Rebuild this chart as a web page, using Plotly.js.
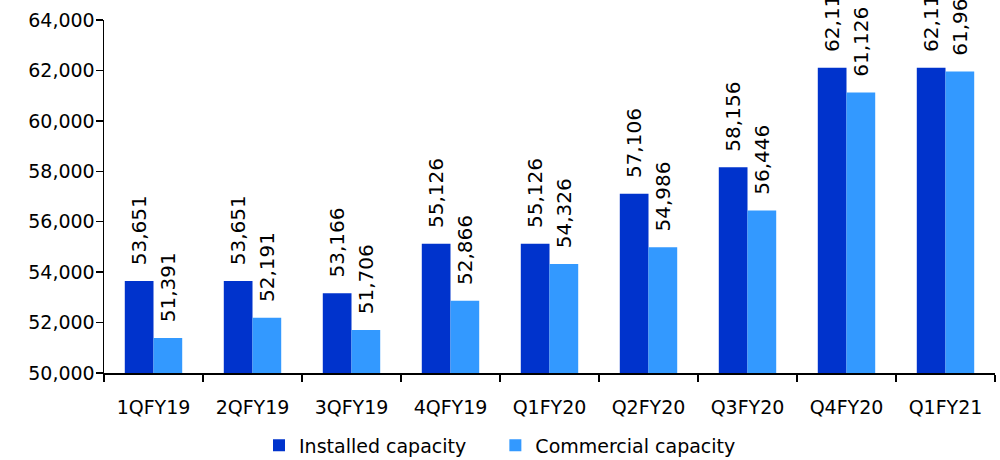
<!DOCTYPE html>
<html>
<head>
<meta charset="utf-8">
<script src="https://cdn.plot.ly/plotly-3.0.1.min.js"></script>
<style>
  html, body { margin: 0; padding: 0; background: #fff; }
  #chart { width: 1000px; height: 460px; }
</style>
</head>
<body>
<div id="chart"></div>
<script>
// Quarterly capacity figures
const quarters = ['1QFY19', '2QFY19', '3QFY19', '4QFY19', 'Q1FY20', 'Q2FY20', 'Q3FY20', 'Q4FY20', 'Q1FY21'];
const installedCapacity = [53651, 53651, 53166, 55126, 55126, 57106, 58156, 62110, 62110];
const commercialCapacity = [51391, 52191, 51706, 52866, 54326, 54986, 56446, 61126, 61960];
const seriesNames = ['Installed capacity', 'Commercial capacity'];

const fontFamily = 'DejaVu Sans, sans-serif';
// value labels sit a little above the bar tops (leading no-break spaces)
const fmt = v => '\u00a0\u00a0' + v.toLocaleString('en-US');
// extra room after the first legend entry
const legendPad = '\u00a0\u00a0\u00a0\u00a0';

const labelFont = { family: fontFamily, size: 20, color: '#000' };
const axisFont = { family: fontFamily, size: 19, color: '#000' };

const traces = [
  {
    type: 'bar',
    name: seriesNames[0] + legendPad,
    x: quarters,
    y: installedCapacity,
    marker: { color: '#0033CC' },
    text: installedCapacity.map(fmt),
    textposition: 'outside',
    textangle: -90,
    constraintext: 'none',
    textfont: labelFont,
    cliponaxis: false,
    hoverinfo: 'x+y'
  },
  {
    type: 'bar',
    name: seriesNames[1],
    x: quarters,
    y: commercialCapacity,
    marker: { color: '#3399FF' },
    text: commercialCapacity.map(fmt),
    textposition: 'outside',
    textangle: -90,
    constraintext: 'none',
    textfont: labelFont,
    cliponaxis: false,
    hoverinfo: 'x+y'
  }
];

const layout = {
  width: 1000,
  height: 460,
  margin: { l: 104, r: 5, t: 20, b: 87, autoexpand: false },
  paper_bgcolor: '#fff',
  plot_bgcolor: '#fff',
  barmode: 'group',
  bargap: 0.42,
  bargroupgap: 0,
  font: { family: fontFamily, size: 19, color: '#000' },
  xaxis: {
    type: 'category',
    showline: true,
    linecolor: '#000',
    linewidth: 1.5,
    ticks: 'outside',
    tickson: 'boundaries',
    ticklen: 7,
    tickcolor: '#000',
    tickwidth: 1.5,
    ticklabelstandoff: 17,
    showgrid: false,
    tickfont: axisFont,
    fixedrange: true
  },
  yaxis: {
    range: [50000, 64000],
    dtick: 2000,
    tickformat: ',d',
    showline: true,
    linecolor: '#000',
    linewidth: 1.5,
    ticks: 'outside',
    ticklen: 7,
    tickcolor: '#000',
    tickwidth: 1.5,
    ticklabelstandoff: -3,
    showgrid: false,
    zeroline: false,
    tickfont: axisFont,
    fixedrange: true
  },
  showlegend: true,
  legend: {
    orientation: 'h',
    xref: 'container',
    x: 0.5,
    xanchor: 'center',
    y: -0.205,
    yanchor: 'middle',
    font: axisFont,
    traceorder: 'normal'
  }
};

Plotly.newPlot('chart', traces, layout, { displayModeBar: false, staticPlot: true });
</script>
</body>
</html>
